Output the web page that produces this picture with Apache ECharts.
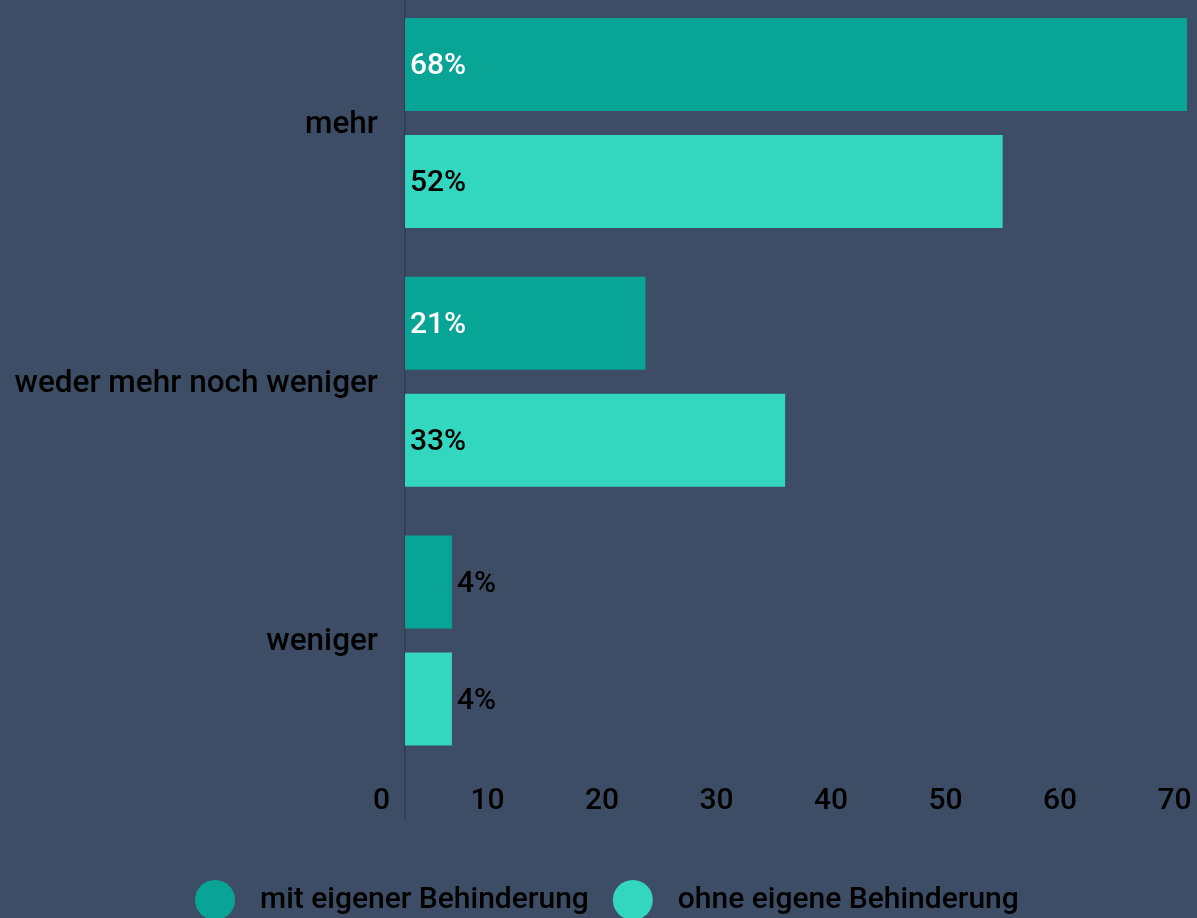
<!DOCTYPE html>
<html>
<head>
<meta charset="utf-8">
<style>
  html, body { margin: 0; padding: 0; background: #3d4d65; }
  #chart { width: 1197px; height: 918px; }
</style>
<script src="https://cdn.jsdelivr.net/npm/echarts@6/dist/echarts.min.js"></script>
</head>
<body>
<div id="chart"></div>
<script>
// --- Data ---
const categories = ['mehr', 'weder mehr noch weniger', 'weniger'];
const seriesNames = ['mit eigener Behinderung', 'ohne eigene Behinderung'];
const withDisability = [68.3, 21.0, 4.1];
const withoutDisability = [52.2, 33.2, 4.1];
const xTicks = [0, 10, 20, 30, 40, 50, 60, 70];

const DARK = '#08a597';
const LIGHT = '#33d6be';
const FONT = 'Roboto';

// small bars get their label outside, in black
function buildData(values, insideColor) {
  return values.map(v => ({
    value: v,
    label: v < 10
      ? { position: 'right', color: '#000' }
      : { position: 'insideLeft', color: insideColor },
  }));
}

const chart = echarts.init(document.getElementById('chart'), null, { renderer: 'canvas' });

chart.setOption({
  backgroundColor: '#3d4d65',
  animation: false,
  textStyle: { fontFamily: FONT },
  legend: {
    data: seriesNames,
    left: 195,
    top: 880,
    padding: 0,
    icon: 'circle',
    itemWidth: 40,
    itemHeight: 40,
    itemGap: 24,
    textStyle: { color: '#000', fontSize: 30, fontWeight: 500, fontFamily: FONT, padding: [0, 0, 0, 20] },
  },
  grid: [
    { left: 405, width: 801.5, top: -6.4, height: 776.3, containLabel: false, outerBoundsMode: 'none' },
    // only used to draw the long vertical axis line
    { left: 405, width: 10, top: -10, height: 828, containLabel: false, outerBoundsMode: 'none' },
  ],
  xAxis: [
    {
      type: 'value',
      gridIndex: 0,
      min: xTicks[0],
      max: xTicks[xTicks.length - 1],
      interval: 10,
      axisLine: { show: false },
      axisTick: { show: false },
      splitLine: { show: false },
      axisLabel: {
        color: '#000',
        fontSize: 30,
        fontWeight: 500,
        fontFamily: FONT,
        align: 'right',
        padding: [0, 15, 0, 0],
        margin: 17,
        showMinLabel: true,
        showMaxLabel: true,
      },
    },
    { type: 'value', gridIndex: 1, show: false },
  ],
  yAxis: [
    {
      type: 'category',
      gridIndex: 0,
      data: categories,
      inverse: true,
      axisLine: { show: false },
      axisTick: { show: false },
      axisLabel: {
        color: '#000',
        fontSize: 31.5,
        fontWeight: 500,
        fontFamily: FONT,
        margin: 27,
        verticalAlign: 'top',
        padding: [-14, 0, 0, 0],
      },
    },
    {
      type: 'value',
      gridIndex: 1,
      axisLine: { show: true, lineStyle: { color: '#323f55', width: 2 } },
      axisTick: { show: false },
      axisLabel: { show: false },
      splitLine: { show: false },
    },
  ],
  series: [
    {
      name: seriesNames[0],
      type: 'bar',
      data: buildData(withDisability, '#fff'),
      barWidth: 93,
      barGap: '25.8%',
      itemStyle: { color: DARK },
      label: {
        show: true,
        fontSize: 30,
        fontWeight: 500,
        fontFamily: FONT,
        distance: 5,
        offset: [0, 2],
        formatter: p => Math.round(p.value) + '%',
      },
    },
    {
      name: seriesNames[1],
      type: 'bar',
      data: buildData(withoutDisability, '#000'),
      barWidth: 93,
      barGap: '25.8%',
      itemStyle: { color: LIGHT },
      label: {
        show: true,
        fontSize: 30,
        fontWeight: 500,
        fontFamily: FONT,
        distance: 5,
        offset: [0, 2],
        formatter: p => Math.round(p.value) + '%',
      },
    },
  ],
});
</script>
</body>
</html>
